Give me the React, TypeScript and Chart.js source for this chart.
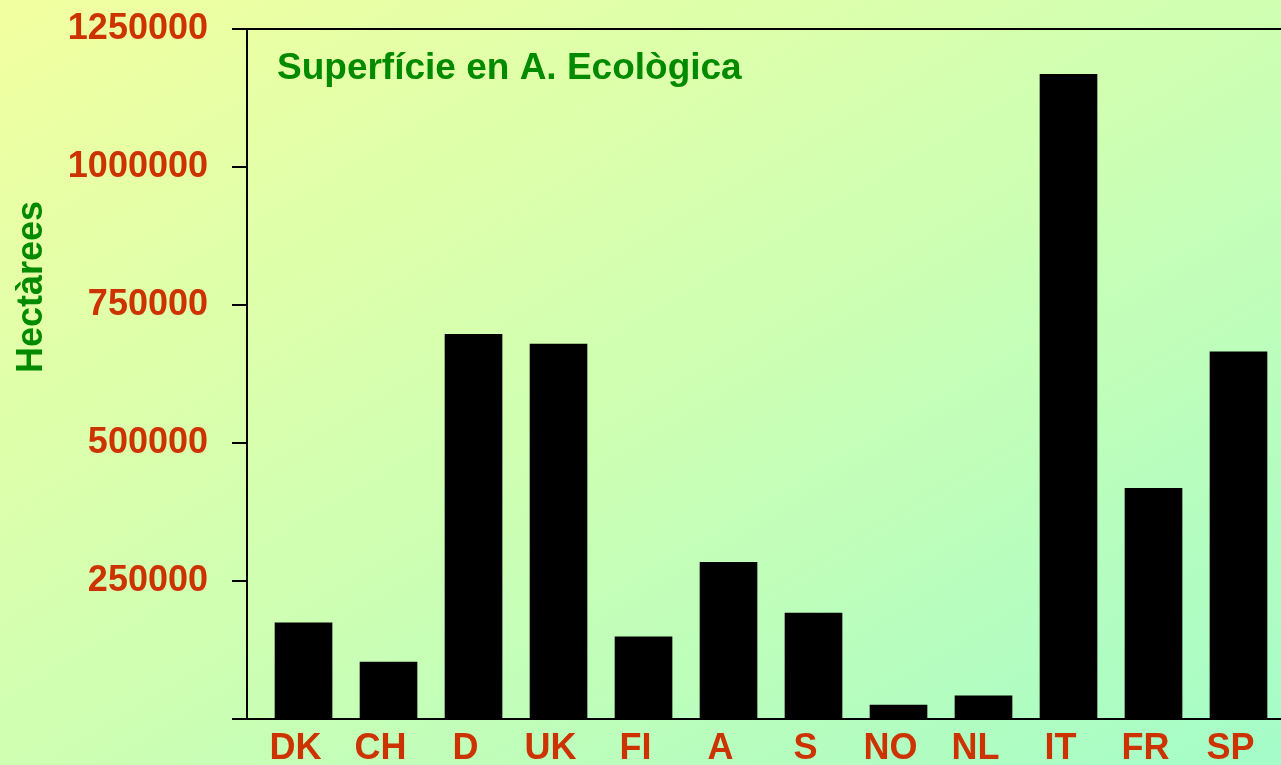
import React, { useEffect, useRef } from "react";
import { Chart, registerables } from "chart.js";

Chart.register(...registerables);

const categories = ["DK", "CH", "D", "UK", "FI", "A", "S", "NO", "NL", "IT", "FR", "SP"];
const hectares = [174000, 103000, 697000, 679000, 149000, 284000, 192000, 25000, 42000, 1168000, 418000, 665000];
const yTicks = [0, 250000, 500000, 750000, 1000000, 1250000];
const chartTitle = "Superfície en A. Ecològica";
const yTitle = "Hectàrees";

const FONT = "'Liberation Sans', Arial, Helvetica, sans-serif";
const RED = "#cc3300";
const GREEN = "#008a00";

const textPlugin = {
  id: "textPlugin",
  afterDraw(chart: any) {
    const { ctx, chartArea } = chart;
    ctx.save();
    ctx.font = `bold 37px ${FONT}`;
    ctx.fillStyle = GREEN;
    ctx.textAlign = "left";
    ctx.textBaseline = "alphabetic";
    ctx.fillText(chartTitle, chartArea.left + 30, chartArea.top + 50);
    ctx.restore();

    ctx.save();
    ctx.font = `bold 36px ${FONT}`;
    ctx.fillStyle = GREEN;
    ctx.textAlign = "center";
    ctx.textBaseline = "middle";
    ctx.translate(32, chartArea.top + 258);
    ctx.rotate(-Math.PI / 2);
    ctx.fillText(yTitle, 0, 0);
    ctx.restore();
  },
};

export default function App() {
  const ref = useRef<HTMLCanvasElement | null>(null);

  useEffect(() => {
    if (!ref.current) return;
    const chart = new Chart(ref.current, {
      type: "bar",
      data: {
        datasets: [
          {
            data: hectares.map((v, i) => ({ x: i, y: v })),
            backgroundColor: "#000000",
            borderWidth: 0,
            barThickness: 57,
          } as any,
        ],
      },
      options: {
        animation: false,
        responsive: true,
        maintainAspectRatio: false,
        layout: { padding: { top: 29, right: 0, left: 0, bottom: 0 } },
        plugins: {
          legend: { display: false },
          tooltip: { enabled: false },
          title: { display: false },
        },
        scales: {
          x: {
            type: "linear",
            offset: false,
            min: -0.665,
            max: 11.5,
            afterBuildTicks: (scale: any) => {
              scale.ticks = categories.map((_, i) => ({ value: i }));
            },
            afterFit: (scale: any) => {
              scale.height = 46;
            },
            ticks: {
              autoSkip: false,
              maxRotation: 0,
              padding: 0,
              labelOffset: -8,
              color: RED,
              font: { family: FONT, size: 36, weight: "bold" },
              callback: (v: any) => categories[Math.round(Number(v))] ?? "",
            },
            grid: { display: false },
            border: { display: false },
          },
          y: {
            min: 0,
            max: 1250000,
            afterBuildTicks: (scale: any) => {
              scale.ticks = yTicks.map((v) => ({ value: v }));
            },
            afterFit: (scale: any) => {
              scale.width = 247;
              scale.paddingTop = 0;
              scale.paddingBottom = 0;
            },
            ticks: {
              padding: 24,
              color: RED,
              font: { family: FONT, size: 36, weight: "bold", lineHeight: 0.5 },
              callback: (v: any) => (Number(v) === 0 ? "" : String(v)),
            },
            grid: {
              drawOnChartArea: true,
              color: (ctx: any) =>
                ctx.tick && (ctx.tick.value === 0 || ctx.tick.value === 1250000) ? "#000000" : "rgba(0,0,0,0)",
              tickColor: "#000000",
              tickLength: 15,
              lineWidth: 2,
            },
            border: { display: true, color: "#000000", width: 2 },
            title: { display: false },
          },
        },
      } as any,
      plugins: [textPlugin],
    });
    return () => chart.destroy();
  }, []);

  return (
    <div
      style={{
        position: "fixed",
        left: 0,
        top: 0,
        width: "1281px",
        height: "765px",
        background: "linear-gradient(to bottom right, #f2ffa0 0%, #cfffb2 50%, #a4fcc8 100%)",
      }}
    >
      <canvas ref={ref} />
    </div>
  );
}
